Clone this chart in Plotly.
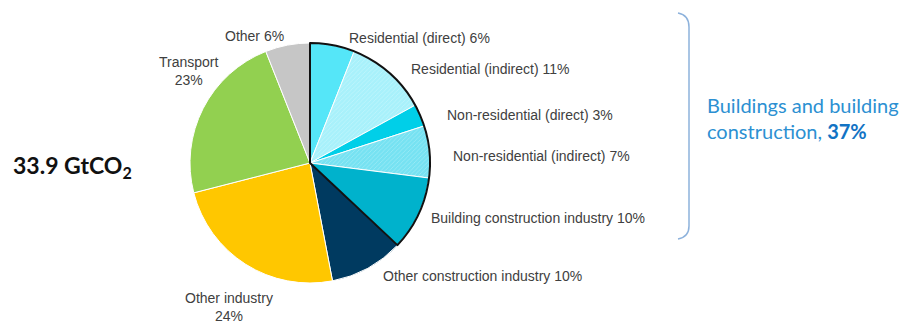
import math
import plotly.graph_objects as go

# Global CO2 emissions by sector (share of 33.9 GtCO2), clockwise from 12 o'clock
sectors = [
    "Residential (direct)",
    "Residential (indirect)",
    "Non-residential (direct)",
    "Non-residential (indirect)",
    "Building construction industry",
    "Other construction industry",
    "Other industry",
    "Transport",
    "Other",
]
shares = [6, 11, 3, 7, 10, 10, 24, 23, 6]

# Buildings group vs. everything else (for the outlined wedge)
group_labels = ["Buildings and building construction", "Rest"]
group_shares = [37, 63]

total_label = "<b>33.9 GtCO<sub>2</sub></b>"

W, H = 911, 332
CX, CY, R = 310, 163, 120  # pie centre and radius in pixels


def px(x):
    return x / W


def py(y):
    return 1 - y / H


colors = ["#55E6F8", "#A8F1FB", "#00CFE8", "#76E2F2",
          "#00B2CC", "#003A60", "#FFC700", "#92D050", "#C6C6C6"]
hatch = ["", "/", "", "/", "", "", "", "", ""]

domain = dict(x=[px(CX - R), px(CX + R)], y=[py(CY + R), py(CY - R)])

fig = go.Figure()
fig.add_trace(go.Pie(
    labels=sectors, values=shares, sort=False, direction="clockwise",
    rotation=0, domain=domain, textinfo="none", hoverinfo="label+percent",
    marker=dict(colors=colors, line=dict(color="white", width=1),
                pattern=dict(shape=hatch, fgcolor="white", size=3,
                             solidity=0.15, fillmode="overlay")),
    showlegend=False,
))
# Black outline around the buildings wedge
fig.add_trace(go.Pie(
    labels=group_labels, values=group_shares, sort=False,
    direction="clockwise", rotation=0, domain=domain, textinfo="none",
    hoverinfo="skip",
    marker=dict(colors=["rgba(0,0,0,0)", "rgba(0,0,0,0)"],
                line=dict(color=["#111111", "rgba(0,0,0,0)"], width=[2, 0])),
    showlegend=False,
))

# Label placement: offset (dx, dy in px) from the slice's outer mid-point
label_offsets = [(15, -7), (20, -4), (25, 0), (22, 4), (10, 4), (13, 8),
                 (-17, 43), (-14, -38), (-33, -9)]
two_line = {"Other industry", "Transport"}

annotations = []
cum = 0
tot = sum(shares)
for name, v, (dx, dy) in zip(sectors, shares, label_offsets):
    mid = (cum + v / 2) / tot * 2 * math.pi
    cum += v
    ex = CX + R * math.sin(mid)
    ey = CY - R * math.cos(mid)
    if name in two_line:
        text = f"{name}<br>{v}%"
        anchor = "center"
    elif dx < 0:
        text = f"{name} {v}%"
        anchor = "center"
    else:
        text = f"{name} {v}%"
        anchor = "left"
    annotations.append(dict(
        x=px(ex + dx), y=py(ey + dy), xref="paper", yref="paper",
        text=text, showarrow=False, xanchor=anchor, yanchor="middle",
        align="center",
        font=dict(family="Liberation Sans, Arial", size=14, color="#404040"),
    ))

annotations.append(dict(
    x=px(11), y=py(166), xref="paper", yref="paper", text=total_label,
    showarrow=False, xanchor="left", yanchor="middle",
    font=dict(family="Lato", size=23, color="#111111"),
))
annotations.append(dict(
    x=px(705), y=py(118), xref="paper", yref="paper",
    text=f"Buildings and building<br>construction, <b style='color:#1273C4'>{group_shares[0]}%</b>",
    showarrow=False, xanchor="left", yanchor="middle", align="left",
    font=dict(family="Lato", size=20, color="#2C90D2"),
))

# Right-hand bracket grouping the buildings slices
bracket = (f"M {px(678)} {py(13)} Q {px(689)} {py(15)} {px(689)} {py(27)} "
           f"L {px(689)} {py(226)} Q {px(689)} {py(237)} {px(678)} {py(239)}")
fig.update_layout(
    width=W, height=H, margin=dict(l=0, r=0, t=0, b=0),
    paper_bgcolor="white", plot_bgcolor="white",
    annotations=annotations,
    shapes=[dict(type="path", xref="paper", yref="paper", path=bracket,
                 line=dict(color="#8DB2DC", width=1.5))],
)
fig.write_html("out.html")
